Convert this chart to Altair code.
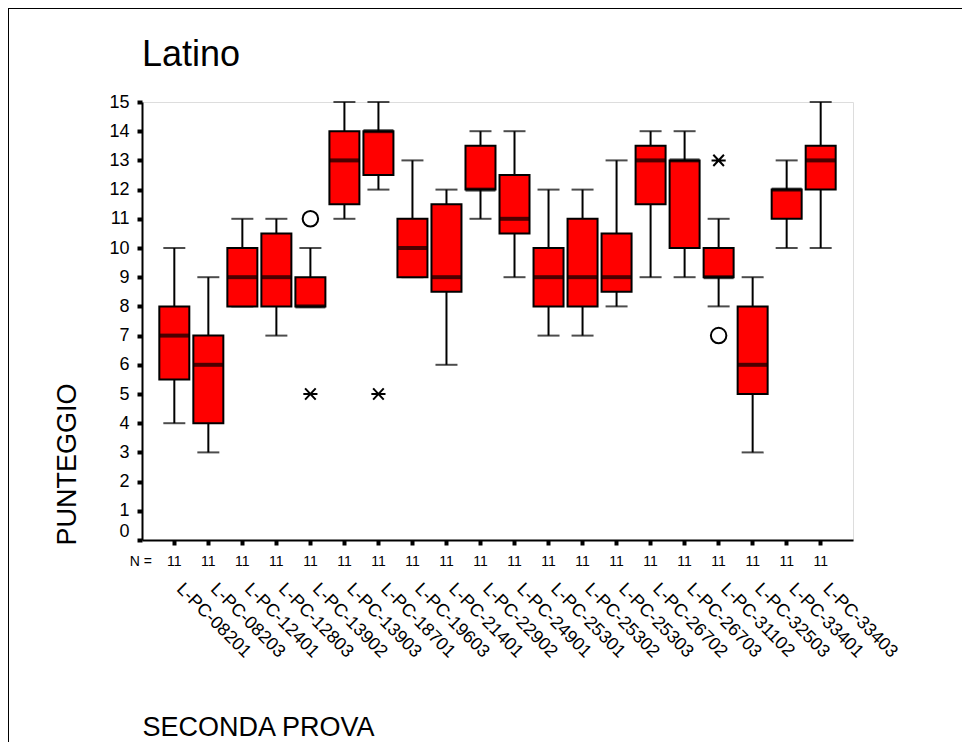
import altair as alt
import pandas as pd

# ---- data ----
categories = ["L-PC-08201", "L-PC-08203", "L-PC-12401", "L-PC-12803", "L-PC-13902",
              "L-PC-13903", "L-PC-18701", "L-PC-19603", "L-PC-21401", "L-PC-22902",
              "L-PC-24901", "L-PC-25301", "L-PC-25302", "L-PC-25303", "L-PC-26702",
              "L-PC-26703", "L-PC-31102", "L-PC-32503", "L-PC-33401", "L-PC-33403"]
whisker_low = [4, 3, 8, 7, 8, 11, 12, 9, 6, 11, 9, 7, 7, 8, 9, 9, 8, 3, 10, 10]
q1 = [5.5, 4, 8, 8, 8, 11.5, 12.5, 9, 8.5, 12, 10.5, 8, 8, 8.5, 11.5, 10, 9, 5, 11, 12]
median = [7, 6, 9, 9, 8, 13, 14, 10, 9, 12, 11, 9, 9, 9, 13, 13, 9, 6, 12, 13]
q3 = [8, 7, 10, 10.5, 9, 14, 14, 11, 11.5, 13.5, 12.5, 10, 11, 10.5, 13.5, 13, 10, 8, 12, 13.5]
whisker_high = [10, 9, 11, 11, 10, 15, 15, 13, 12, 14, 14, 12, 12, 13, 14, 14, 11, 9, 13, 15]
n_counts = [11, 11, 11, 11, 11, 11, 11, 11, 11, 11, 11, 11, 11, 11, 11, 11, 11, 11, 11, 11]

outlier_cats = ["L-PC-13902", "L-PC-31102"]
outlier_vals = [11, 7]
extreme_cats = ["L-PC-13902", "L-PC-18701", "L-PC-31102"]
extreme_vals = [5, 5, 13]

y_ticks = list(range(0, 16))
chart_title = "Latino"

df = pd.DataFrame({
    "cat": categories, "lo": whisker_low, "q1": q1, "med": median,
    "q3": q3, "hi": whisker_high, "n": [str(v) for v in n_counts],
})
df_out = pd.DataFrame({"cat": outlier_cats, "v": outlier_vals})
df_ext = pd.DataFrame({"cat": extreme_cats, "v": extreme_vals})

FONT = "Liberation Sans"
W, H = 711, 438

xscale = alt.Scale(domain=categories, paddingInner=0, paddingOuter=0.45)
yscale = alt.Scale(domain=[0, 15], nice=False)

x_axis = alt.Axis(
    title="SECONDA PROVA", titleFont=FONT, titleFontSize=27, titleFontWeight="normal",
    titleColor="black", titleAlign="left", titleAnchor="start", titleBaseline="alphabetic",
    titleX=0, titleY=195,
    labelFont=FONT, labelFontSize=18, labelColor="black", labelAngle=45,
    labelAlign="left", labelBaseline="middle", labelPadding=41, labelOffset=5,
    tickSize=5, tickWidth=4, tickColor="black", domainColor="black", domainWidth=2,
    labelOverlap=False, labelBound=False, labelFlush=False)

y_axis = alt.Axis(
    title="PUNTEGGIO", titleFont=FONT, titleFontSize=27, titleFontWeight="normal",
    titleColor="black", titleAngle=270, titleAlign="left", titleBaseline="alphabetic",
    titleX=-67, titleY=443,
    values=y_ticks, labelFont=FONT, labelFontSize=18, labelColor="black",
    labelPadding=8, tickSize=5, tickWidth=4, tickColor="black",
    domainColor="black", domainWidth=2, grid=False,
    labelOverlap=False, labelFlush=False, labelBound=False,
    labelBaseline={"condition": {"test": "datum.value == 0", "value": "bottom"}, "value": "middle"})

X = alt.X("cat:N", scale=xscale, sort=categories, axis=x_axis)


def Y(field):
    return alt.Y(field, scale=yscale, axis=y_axis)


base = alt.Chart(df)

upper = base.mark_rule(color="black", strokeWidth=2).encode(x=X, y=Y("q3:Q"), y2="hi:Q")
lower = base.mark_rule(color="black", strokeWidth=2).encode(x=X, y=Y("lo:Q"), y2="q1:Q")
cap_hi = base.mark_tick(color="black", size=22, thickness=2).encode(x=X, y=Y("hi:Q"))
cap_lo = base.mark_tick(color="black", size=22, thickness=2).encode(x=X, y=Y("lo:Q"))
box = base.mark_bar(width=30, color="#ff0000", stroke="black", strokeWidth=2).encode(
    x=X, y=Y("q1:Q"), y2="q3:Q")
med = base.mark_tick(color="black", size=30, thickness=4).encode(x=X, y=Y("med:Q"))

ncount = base.mark_text(font=FONT, fontSize=14, color="black", baseline="middle").encode(
    x=X, y=alt.value(460), text="n:N")
nlabel = alt.Chart(pd.DataFrame({"t": ["N ="]})).mark_text(
    font=FONT, fontSize=14, color="black", align="right", baseline="middle").encode(
    x=alt.value(10), y=alt.value(460), text="t:N")

title_mark = alt.Chart(pd.DataFrame({"t": [chart_title]})).mark_text(
    font=FONT, fontSize=36, color="black", align="left", baseline="alphabetic").encode(
    x=alt.value(0), y=alt.value(-36), text="t:N")

circles = alt.Chart(df_out).mark_point(shape="circle", filled=False, color="black",
                                        strokeWidth=2, size=240, opacity=1).encode(
    x=X, y=alt.Y("v:Q", scale=yscale, axis=y_axis))
stars = alt.Chart(df_ext).mark_point(
    shape="M-1,0L1,0M-0.75,-0.8L0.75,0.8M-0.75,0.8L0.75,-0.8",
    filled=False, color="black", strokeWidth=2, size=200, opacity=1).encode(
    x=X, y=alt.Y("v:Q", scale=yscale, axis=y_axis))

border_df = pd.DataFrame({"k": [0]})
border_top = alt.Chart(border_df).mark_rule(color="black", strokeWidth=2).encode(
    x=alt.value(-134), x2=alt.value(820), y=alt.value(-94))
border_left = alt.Chart(border_df).mark_rule(color="black", strokeWidth=2).encode(
    x=alt.value(-134), y=alt.value(-94), y2=alt.value(640))

chart = alt.layer(
    upper, lower, cap_hi, cap_lo, box, med, circles, stars, ncount, nlabel,
    title_mark, border_top, border_left
).properties(
    width=W, height=H,
    padding={"left": 134, "top": 94, "right": 112, "bottom": 206},
    autosize=alt.AutoSizeParams(type="none"),
).configure_view(stroke="black", strokeWidth=1.5).configure(background="white")

chart.save("out.html", embed_options={"renderer": "svg", "actions": False})
